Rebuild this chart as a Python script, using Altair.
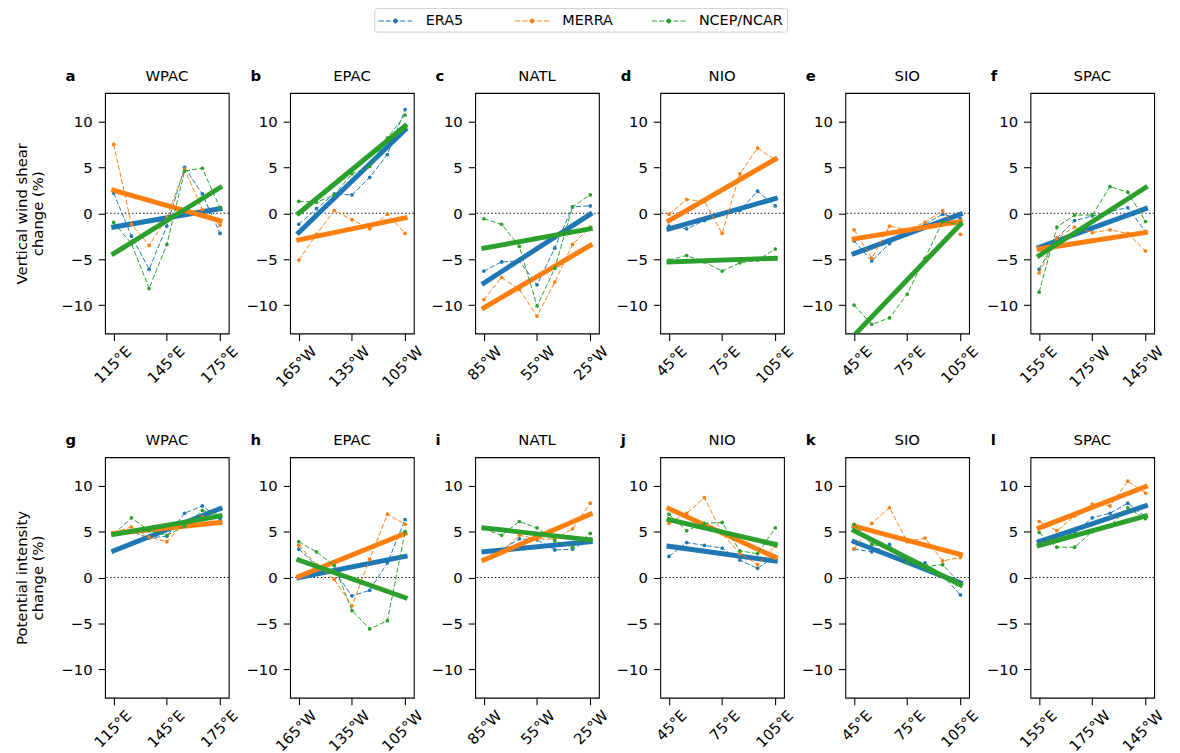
import altair as alt
import pandas as pd

FONT = "DejaVu Sans"
FS = 15
LEG_FS = 14.5

DATASETS = ["ERA5", "MERRA", "NCEP/NCAR"]
COLORS = ["#1f77b4", "#ff7f0e", "#2ca02c"]
REGIONS = ["WPAC", "EPAC", "NATL", "NIO", "SIO", "SPAC"]
LETTERS_TOP = ["a", "b", "c", "d", "e", "f"]
LETTERS_BOTTOM = ["g", "h", "i", "j", "k", "l"]
LON_STEPS = [0, 10, 20, 30, 40, 50, 60]   # degrees from the western edge of each basin
LON_TICKS = [0, 30, 60]
Y_TICKS = [-10, -5, 0, 5, 10]
TICK_LABELS = {
    "WPAC": ["115°E", "145°E", "175°E"],
    "EPAC": ["165°W", "135°W", "105°W"],
    "NATL": ["85°W", "55°W", "25°W"],
    "NIO": ["45°E", "75°E", "105°E"],
    "SIO": ["45°E", "75°E", "105°E"],
    "SPAC": ["155°E", "175°W", "145°W"],
}
YTITLE_TOP = ["Vertical wind shear", "change (%)"]
YTITLE_BOTTOM = ["Potential intensity", "change (%)"]

# ---- Vertical wind shear change (%) ----
SHEAR_ERA5 = {
    "WPAC": [2.2, -2.5, -6.1, -1.4, 5.0, 2.1, -2.2],
    "EPAC": [-1.2, 0.5, 2.1, 2.0, 3.9, 6.4, 11.3],
    "NATL": [-6.3, -5.3, -5.2, -7.8, -3.8, 0.7, 0.8],
    "NIO": [-1.4, -1.7, -0.8, 0.0, 0.3, 2.4, 0.8],
    "SIO": [-3.0, -5.2, -3.3, -2.0, -1.2, -0.1, -0.6],
    "SPAC": [-6.1, -2.7, -0.8, -0.3, 0.2, 0.6, -2.0],
}
SHEAR_MERRA = {
    "WPAC": [7.5, -1.2, -3.5, -0.5, 4.8, 0.4, -1.3],
    "EPAC": [-5.1, -2.3, 0.3, -0.7, -1.7, -0.1, -2.2],
    "NATL": [-9.4, -7.0, -8.3, -11.2, -7.5, -3.4, -1.5],
    "NIO": [-0.1, 1.5, 1.3, -2.2, 4.3, 7.1, 5.8],
    "SIO": [-1.8, -4.9, -1.4, -1.8, -1.0, 0.3, -2.3],
    "SPAC": [-6.5, -2.7, -1.5, -2.1, -1.8, -2.2, -4.1],
}
SHEAR_NCEP = {
    "WPAC": [-1.0, -3.3, -8.2, -3.4, 4.6, 4.9, 0.6],
    "EPAC": [1.3, 1.2, 2.0, 4.3, 5.1, 8.2, 10.7],
    "NATL": [-0.6, -1.2, -3.6, -10.1, -6.0, 0.7, 2.0],
    "NIO": [-5.1, -4.6, -5.3, -6.3, -5.4, -5.1, -3.9],
    "SIO": [-10.0, -12.1, -11.4, -8.8, -4.9, -0.9, -1.3],
    "SPAC": [-8.6, -1.5, -0.2, -0.2, 2.9, 2.3, -0.9],
}
SHEAR_TREND_ERA5 = {"WPAC": (-1.5, 0.5), "EPAC": (-2.1, 9.1), "NATL": (-7.6, -0.1),
                    "NIO": (-1.7, 1.6), "SIO": (-4.4, -0.1), "SPAC": (-3.7, 0.5)}
SHEAR_TREND_MERRA = {"WPAC": (2.5, -0.8), "EPAC": (-2.9, -0.5), "NATL": (-10.3, -3.5),
                     "NIO": (-0.8, 5.9), "SIO": (-2.8, -0.9), "SPAC": (-3.9, -2.1)}
SHEAR_TREND_NCEP = {"WPAC": (-4.4, 2.8), "EPAC": (0.0, 9.5), "NATL": (-3.8, -1.7),
                    "NIO": (-5.3, -4.9), "SIO": (-13.3, -1.2), "SPAC": (-4.6, 2.8)}

# ---- Potential intensity change (%) ----
PI_ERA5 = {
    "WPAC": [4.8, 5.0, 4.3, 4.5, 7.0, 7.8, 6.4],
    "EPAC": [3.1, 1.3, 0.7, -2.0, -1.4, 1.6, 6.3],
    "NATL": [2.8, 3.0, 4.2, 4.1, 3.0, 3.1, 4.2],
    "NIO": [2.3, 3.8, 3.5, 3.2, 1.9, 1.0, 2.3],
    "SIO": [3.1, 2.8, 3.6, 1.8, 1.6, 0.2, -1.9],
    "SPAC": [4.0, 4.3, 4.9, 6.5, 7.0, 8.1, 6.6],
}
PI_MERRA = {
    "WPAC": [4.9, 5.5, 4.4, 3.9, 6.0, 6.6, 5.9],
    "EPAC": [3.5, 1.4, -0.2, -3.1, 2.0, 6.9, 5.8],
    "NATL": [2.0, 2.8, 4.6, 4.2, 4.2, 5.3, 8.1],
    "NIO": [5.9, 7.0, 8.7, 4.8, 2.6, 1.4, 3.4],
    "SIO": [3.1, 5.9, 7.6, 3.9, 4.3, 1.8, 2.2],
    "SPAC": [6.1, 5.1, 6.7, 8.0, 7.8, 10.5, 9.2],
}
PI_NCEP = {
    "WPAC": [4.7, 6.5, 5.1, 4.6, 5.6, 7.3, 6.8],
    "EPAC": [3.9, 2.8, 1.3, -3.6, -5.6, -4.7, 5.0],
    "NATL": [5.3, 4.6, 6.1, 5.4, 4.0, 3.3, 4.8],
    "NIO": [6.9, 5.1, 5.9, 6.0, 2.9, 2.6, 5.4],
    "SIO": [5.8, 3.6, 3.2, 1.6, 1.2, 1.4, -0.7],
    "SPAC": [4.9, 3.3, 3.3, 5.0, 5.6, 7.6, 6.4],
}
PI_TREND_ERA5 = {"WPAC": (2.9, 7.5), "EPAC": (0.0, 2.3), "NATL": (2.8, 3.9),
                 "NIO": (3.4, 1.8), "SIO": (3.9, -0.6), "SPAC": (3.9, 7.8)}
PI_TREND_MERRA = {"WPAC": (4.8, 6.0), "EPAC": (0.1, 4.8), "NATL": (1.9, 6.9),
                  "NIO": (7.5, 2.2), "SIO": (5.6, 2.5), "SPAC": (5.4, 9.9)}
PI_TREND_NCEP = {"WPAC": (4.7, 6.7), "EPAC": (1.9, -2.2), "NATL": (5.4, 4.1),
                 "NIO": (6.3, 3.6), "SIO": (5.1, -0.8), "SPAC": (3.5, 6.7)}

PANEL_W = 125
PANEL_H = 243

COLOR_SCALE = alt.Scale(domain=DATASETS, range=COLORS)
# legend handle: dashed segment with a dot, drawn from -1 to 3 in symbol units
LEGEND_SYMBOL = ("M-1,0L-0.4,0M-0.14,0L0.46,0M0.72,0L1.3,0M1.56,0L2.16,0M2.42,0L3,0"
                 "M0.76,0A0.24,0.24 0 1,0 1.24,0A0.24,0.24 0 1,0 0.76,0Z")
LEGEND = alt.Legend(
    title=None, orient="none", direction="horizontal", legendX=272, legendY=-86,
    symbolType=LEGEND_SYMBOL, symbolSize=289, symbolStrokeWidth=1, symbolOpacity=1,
    labelFont=FONT, labelFontSize=LEG_FS, labelColor="black", labelOffset=30,
    columnPadding=3, gridAlign="all", padding=4, strokeColor="#cccccc",
    cornerRadius=3, fillColor="white",
)


def build_panel(region, letter, obs_list, trend_list, ytitle):
    rows = []
    for ds, obs, tr in zip(DATASETS, obs_list, trend_list):
        for lon, v in zip(LON_STEPS, obs[region]):
            rows.append({"ds": ds, "x": lon, "y": v, "kind": "obs"})
        rows.append({"ds": ds, "x": LON_STEPS[0], "y": tr[region][0], "kind": "trend"})
        rows.append({"ds": ds, "x": LON_STEPS[-1], "y": tr[region][1], "kind": "trend"})
    df = pd.DataFrame(rows)

    labs = TICK_LABELS[region]
    label_expr = (f"datum.value == {LON_TICKS[0]} ? '{labs[0]}' : "
                  f"datum.value == {LON_TICKS[1]} ? '{labs[1]}' : '{labs[2]}'")
    x_enc = alt.X("x:Q", scale=alt.Scale(domain=[-4.9, 64.9], nice=False, zero=False),
                  axis=alt.Axis(values=LON_TICKS, labelExpr=label_expr, title=None,
                                labelAngle=-45, labelAlign="right", labelBaseline="top",
                                labelOffset=10, labelPadding=3))
    y_enc = alt.Y("y:Q", scale=alt.Scale(domain=[-13.1, 13.1], nice=False, zero=False),
                  axis=alt.Axis(values=Y_TICKS, title=ytitle if ytitle else None,
                                labelPadding=6))
    c_enc = alt.Color("ds:N", scale=COLOR_SCALE, legend=LEGEND)

    zero = alt.Chart(pd.DataFrame({"y": [0]})).mark_rule(
        color="black", strokeWidth=1, strokeDash=[1.4, 2.3]
    ).encode(y=y_enc)

    layers = [zero]
    base = alt.Chart(df)
    for ds in DATASETS:
        obs = base.transform_filter(
            (alt.datum.ds == ds) & (alt.datum.kind == "obs"))
        tr = base.transform_filter(
            (alt.datum.ds == ds) & (alt.datum.kind == "trend"))
        layers.append(obs.mark_line(strokeWidth=1, strokeDash=[5, 2.2], clip=True)
                      .encode(x=x_enc, y=y_enc, color=c_enc))
        layers.append(obs.mark_circle(size=14, opacity=1, clip=True)
                      .encode(x=x_enc, y=y_enc, color=c_enc))
        layers.append(tr.mark_line(strokeWidth=5, strokeCap="square", clip=True)
                      .encode(x=x_enc, y=y_enc, color=c_enc))

    head = pd.DataFrame({"letter": [letter], "region": [region]})
    letter_layer = alt.Chart(head).mark_text(
        align="left", baseline="alphabetic", fontWeight="bold", fontSize=FS,
        font=FONT, color="black"
    ).encode(text="letter:N", x=alt.value(-40), y=alt.value(-12.6))
    region_layer = alt.Chart(head).mark_text(
        align="center", baseline="alphabetic", fontSize=FS, font=FONT, color="black"
    ).encode(text="region:N", x=alt.value(PANEL_W / 2), y=alt.value(-12.6))
    layers += [letter_layer, region_layer]

    return alt.layer(*layers).properties(width=PANEL_W, height=PANEL_H)


top = [build_panel(r, LETTERS_TOP[i],
                   [SHEAR_ERA5, SHEAR_MERRA, SHEAR_NCEP],
                   [SHEAR_TREND_ERA5, SHEAR_TREND_MERRA, SHEAR_TREND_NCEP],
                   YTITLE_TOP if i == 0 else None)
       for i, r in enumerate(REGIONS)]
bottom = [build_panel(r, LETTERS_BOTTOM[i],
                      [PI_ERA5, PI_MERRA, PI_NCEP],
                      [PI_TREND_ERA5, PI_TREND_MERRA, PI_TREND_NCEP],
                      YTITLE_BOTTOM if i == 0 else None)
          for i, r in enumerate(REGIONS)]

chart = alt.vconcat(
    alt.hconcat(*top, spacing=62, bounds="flush"),
    alt.hconcat(*bottom, spacing=62, bounds="flush"),
    spacing=41,
).configure(
    padding={"left": 5, "top": -5, "right": 5, "bottom": 0}, background="white"
).configure_view(
    stroke="black", strokeWidth=1.1
).configure_axis(
    domain=False, grid=False, ticks=True, tickColor="black", tickSize=7, tickWidth=1.1,
    labelFont=FONT, labelFontSize=FS, labelColor="black",
    titleFont=FONT, titleFontSize=FS, titleFontWeight="normal", titleColor="black",
    titlePadding=15,
)

chart.save("out.html", embed_options={"renderer": "svg", "actions": False})
